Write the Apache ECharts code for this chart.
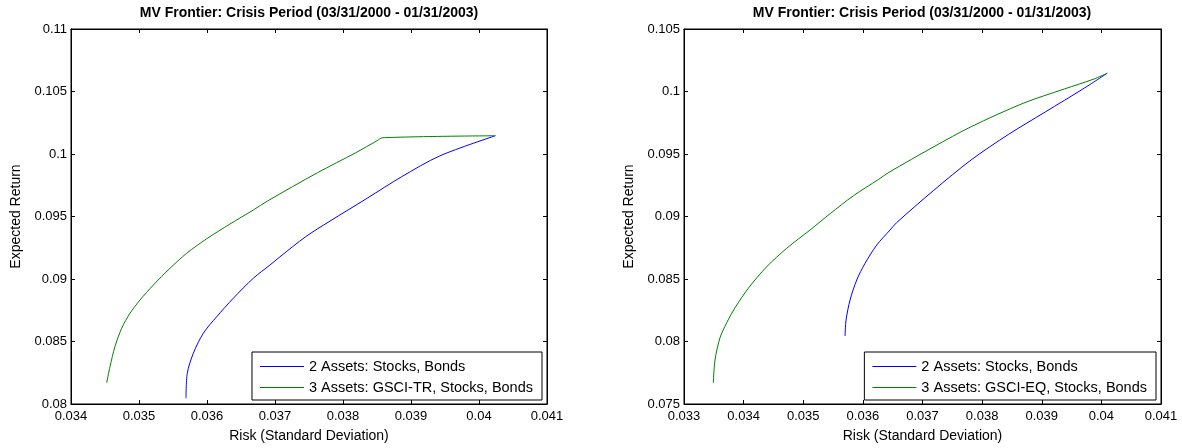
<!DOCTYPE html>
<html>
<head>
<meta charset="utf-8">
<script src="https://cdn.jsdelivr.net/npm/echarts@6/dist/echarts.min.js"></script>
<style>
html,body{margin:0;padding:0;background:#fff;}
#chart{width:1182px;height:448px;}
</style>
</head>
<body>
<div id="chart"></div>
<script>
// ---- Data ----
const chartTitle = "MV Frontier: Crisis Period (03/31/2000 - 01/31/2003)";
const xAxisTitle = "Risk (Standard Deviation)";
const yAxisTitle = "Expected Return";
const seriesNames = ["2 Assets: Stocks, Bonds", "3 Assets: GSCI-TR, Stocks, Bonds", "3 Assets: GSCI-EQ, Stocks, Bonds"];

// left panel axis ranges [min, max, step]
const leftX = [0.034, 0.041, 0.001];
const leftY = [0.08, 0.11, 0.005];
// right panel axis ranges
const rightX = [0.033, 0.041, 0.001];
const rightY = [0.075, 0.105, 0.005];

// Left panel: 2 assets (Stocks, Bonds)
const leftSBRisk   = [0.035691,0.035710,0.035799,0.035946,0.036142,0.036387,0.036681,0.036926,0.037074,0.03745,0.037793,0.038355,0.038862,0.039424,0.04024];
const leftSBReturn = [0.08046, 0.08246, 0.08406, 0.08566, 0.08698, 0.08846, 0.09006, 0.09112, 0.09178, 0.09338,0.09458, 0.09646, 0.09818, 0.09985, 0.10146];
// Left panel: 3 assets (GSCI-TR, Stocks, Bonds)
const leftTRRisk   = [0.034525,0.034574,0.034647,0.034745,0.034868,0.035015,0.035211,0.035456,0.035701,0.035996,0.036338,0.036681,0.036893,0.037624,0.038187,0.038500,0.038579,0.04024];
const leftTRReturn = [0.08170, 0.08300, 0.08460, 0.08606, 0.08726, 0.08832, 0.08952, 0.09086, 0.09206, 0.09322, 0.09440, 0.09552, 0.09625, 0.09850, 0.10010, 0.10106, 0.10130, 0.10146];

// Right panel: 2 assets (Stocks, Bonds)
const rightSBRisk   = [0.035701,0.035718,0.035785,0.035897,0.036037,0.036233,0.036456,0.036564,0.037190,0.037814,0.038440,0.039065,0.039690,0.040098];
const rightSBReturn = [0.08044, 0.08172, 0.08332, 0.08492, 0.08626, 0.08772, 0.08892, 0.08950, 0.09210, 0.09452, 0.09656, 0.09838, 0.10020, 0.10146];
// Right panel: 3 assets (GSCI-EQ, Stocks, Bonds)
const rightEQRisk   = [0.033492,0.033520,0.033604,0.033716,0.033856,0.034079,0.034387,0.034723,0.035114,0.035450,0.035841,0.036260,0.036440,0.037190,0.037814,0.038690,0.039378,0.039877,0.040098];
const rightEQReturn = [0.07670, 0.07852, 0.08030, 0.08150, 0.08270, 0.08426, 0.08598, 0.08746, 0.08892, 0.09022, 0.09166, 0.09296, 0.09354, 0.09558, 0.09718, 0.09906, 0.10020, 0.10100, 0.10146];

// ---- Helpers ----
const FONT = "'Liberation Sans', Arial, Helvetica, sans-serif";
const pairs = (xs, ys) => xs.map((x, i) => [x, ys[i]]);
const fmt = v => String(parseFloat(v.toFixed(4)));

function xAxis(grid, r, top) {
  return {
    type: 'value', gridIndex: grid, min: r[0], max: r[1], interval: r[2],
    position: top ? 'top' : 'bottom',
    name: top ? '' : xAxisTitle, nameLocation: 'middle', nameGap: 25,
    nameTextStyle: { color: '#000', fontSize: 14, fontFamily: FONT },
    axisLine: { show: true, onZero: false, lineStyle: { color: '#000', width: 1 } },
    axisTick: { show: true, inside: true, length: 4, lineStyle: { color: '#000' } },
    axisLabel: { show: !top, color: '#000', fontSize: 13, fontFamily: FONT, margin: 6, formatter: fmt, showMinLabel: true, showMaxLabel: true },
    splitLine: { show: false }
  };
}
function yAxis(grid, r, right) {
  return {
    type: 'value', gridIndex: grid, min: r[0], max: r[1], interval: r[2],
    position: right ? 'right' : 'left',
    name: right ? '' : yAxisTitle, nameLocation: 'middle', nameGap: 48,
    nameTextStyle: { color: '#000', fontSize: 14, fontFamily: FONT },
    axisLine: { show: true, onZero: false, lineStyle: { color: '#000', width: 1 } },
    axisTick: { show: true, inside: true, length: 4, lineStyle: { color: '#000' } },
    axisLabel: { show: !right, color: '#000', fontSize: 13, fontFamily: FONT, margin: 4, formatter: fmt, showMinLabel: true, showMaxLabel: true },
    splitLine: { show: false }
  };
}
function line(name, xi, yi, data, color) {
  return {
    name: name, type: 'line', xAxisIndex: xi, yAxisIndex: yi, data: data,
    showSymbol: false, symbol: 'none', smooth: 0.3, animation: false,
    lineStyle: { color: color, width: 1 }, itemStyle: { color: color }
  };
}
function legend(names, rightPx) {
  return {
    data: names, orient: 'vertical', right: rightPx, top: 352,
    icon: 'rect', itemWidth: 44, itemHeight: 1, itemGap: 6,
    padding: [7, 9, 5, 8],
    backgroundColor: '#fff', borderColor: '#000', borderWidth: 1,
    textStyle: { color: '#000', fontSize: 14.5, fontFamily: FONT },
    selectedMode: false
  };
}

const BLUE = '#0000ff', GREEN = '#008000';

const option = {
  backgroundColor: '#fff',
  animation: false,
  title: [
    { text: chartTitle, left: 309, top: 6, textAlign: 'center', padding: 0,
      textStyle: { fontSize: 14, fontWeight: 'bold', color: '#000', fontFamily: FONT } },
    { text: chartTitle, left: 922, top: 6, textAlign: 'center', padding: 0,
      textStyle: { fontSize: 14, fontWeight: 'bold', color: '#000', fontFamily: FONT } }
  ],
  grid: [
    { left: 71, top: 29, width: 476, height: 375, show: true, borderColor: '#000', borderWidth: 1, backgroundColor: '#fff' },
    { left: 684, top: 29, width: 477, height: 375, show: true, borderColor: '#000', borderWidth: 1, backgroundColor: '#fff' }
  ],
  xAxis: [xAxis(0, leftX, false), xAxis(0, leftX, true), xAxis(1, rightX, false), xAxis(1, rightX, true)],
  yAxis: [yAxis(0, leftY, false), yAxis(0, leftY, true), yAxis(1, rightY, false), yAxis(1, rightY, true)],
  legend: [
    legend([seriesNames[0], seriesNames[1]], 1182 - 542),
    legend([seriesNames[0], seriesNames[2]], 1182 - 1156)
  ],
  series: [
    line(seriesNames[0], 0, 0, pairs(leftSBRisk, leftSBReturn), BLUE),
    line(seriesNames[1], 0, 0, pairs(leftTRRisk, leftTRReturn), GREEN),
    line(seriesNames[0], 2, 2, pairs(rightSBRisk, rightSBReturn), BLUE),
    line(seriesNames[2], 2, 2, pairs(rightEQRisk, rightEQReturn), GREEN)
  ]
};

const chart = echarts.init(document.getElementById('chart'), null, { renderer: 'canvas' });
chart.setOption(option);
</script>
</body>
</html>
